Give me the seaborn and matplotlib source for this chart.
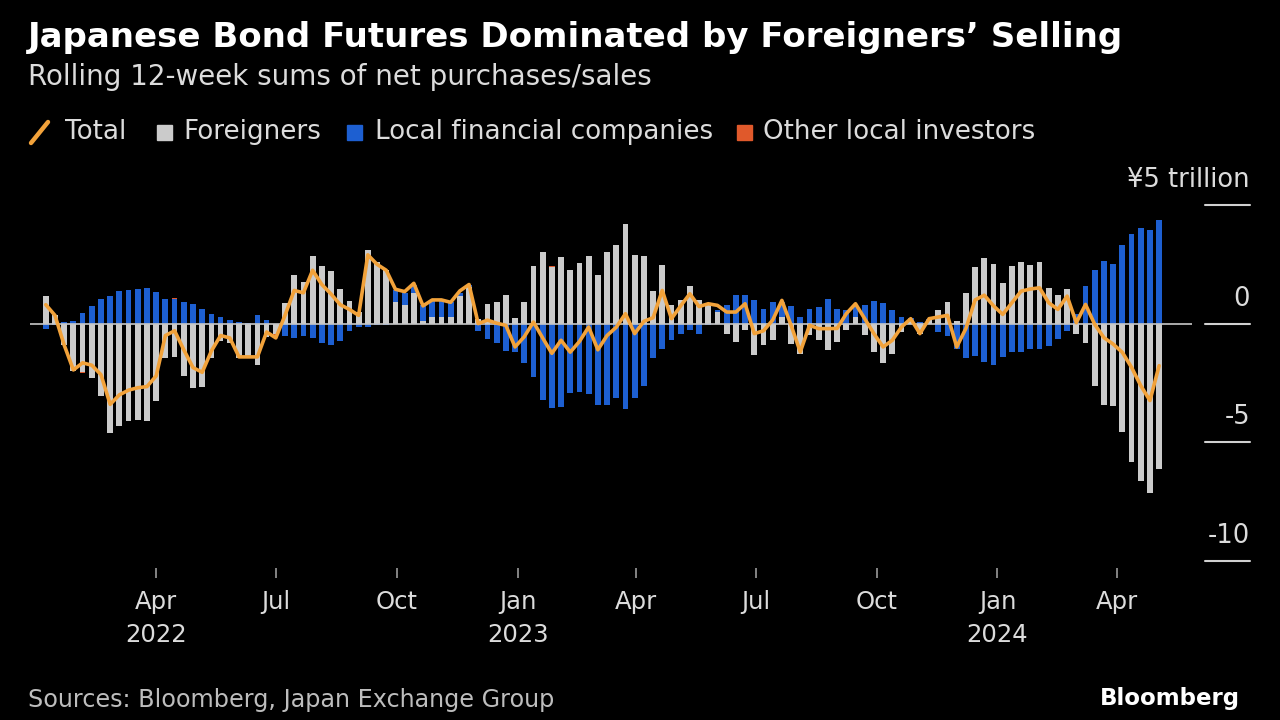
import numpy as np
import pandas as pd
import matplotlib
matplotlib.use("Agg")
from matplotlib import pyplot as plt
import matplotlib.transforms as mtrans
from matplotlib.patches import Rectangle
from matplotlib.lines import Line2D
import seaborn as sns

# weekly rolling 12-week sums, trillion yen, first week ending 2022-01-07
start_week = "2022-01-07"

foreigners = [
    1.15, 0.35, -0.90, -2.00, -2.05, -2.30, -3.05, -4.60, -4.30, -4.10,
    -4.05, -4.10, -3.25, -1.45, -1.40, -2.20, -2.72, -2.68, -1.45, -0.75,
    -0.80, -1.45, -1.40, -1.74, -0.55, -0.45, 0.85, 2.04, 1.76, 2.87,
    2.45, 2.20, 1.48, 0.95, 0.50, 3.10, 2.60, 2.25, 0.90, 0.80,
    1.30, 0.10, 0.30, 0.30, 0.30, 1.15, 1.55, 0.20, 0.84, 0.92,
    1.20, 0.22, 0.91, 2.41, 3.00, 2.40, 2.82, 2.27, 2.54, 2.86,
    2.05, 3.00, 3.31, 4.18, 2.89, 2.86, 1.39, 2.47, 0.80, 0.98,
    1.60, 0.98, 0.77, 0.49, -0.42, -0.77, -0.28, -1.32, -0.91, -0.70,
    0.30, -0.84, -1.26, -0.49, -0.70, -1.12, -0.77, -0.28, 0.28, -0.49,
    -1.19, -1.67, -1.26, -0.35, 0.10, -0.45, 0.15, 0.56, 0.93, 0.10,
    1.30, 2.38, 2.76, 2.50, 1.72, 2.41, 2.59, 2.48, 2.59, 1.51,
    1.19, 1.48, -0.45, -0.82, -2.61, -3.42, -3.47, -4.56, -5.84, -6.62,
    -7.14, -6.12,
]

local_financial = [
    -0.22, -0.05, 0.05, 0.10, 0.45, 0.75, 1.05, 1.15, 1.38, 1.40,
    1.44, 1.50, 1.32, 1.06, 1.06, 0.93, 0.81, 0.60, 0.39, 0.29,
    0.15, 0.07, 0.02, 0.38, 0.15, 0.00, -0.50, -0.60, -0.52, -0.60,
    -0.80, -0.90, -0.73, -0.30, -0.15, -0.15, -0.05, -0.05, 0.50, 0.50,
    0.35, 0.70, 0.65, 0.70, 0.60, 0.15, 0.10, -0.30, -0.65, -0.80,
    -1.15, -1.20, -1.65, -2.25, -3.21, -3.56, -3.50, -2.93, -2.90, -2.95,
    -3.42, -3.42, -3.14, -3.60, -3.14, -2.62, -1.46, -1.05, -0.70, -0.42,
    -0.28, -0.42, -0.07, 0.10, 0.77, 1.19, 1.19, 0.98, 0.63, 0.91,
    0.60, 0.74, 0.28, 0.63, 0.70, 1.02, 0.63, 0.56, 0.50, 0.77,
    0.95, 0.88, 0.56, 0.28, 0.15, 0.05, 0.05, -0.35, -0.52, -1.05,
    -1.46, -1.35, -1.60, -1.75, -1.42, -1.21, -1.21, -1.07, -1.07, -0.93,
    -0.66, -0.31, 0.40, 1.58, 2.27, 2.65, 2.52, 3.32, 3.77, 4.02,
    3.95, 4.37,
]

# other local investors are tiny and barely register on this scale
other_local = [
    0.00, 0.00, 0.01, 0.00, -0.01, 0.00, 0.00, 0.01, 0.00, 0.00,
    0.00, -0.01, 0.00, 0.00, 0.01, 0.00, 0.00, 0.00, 0.00, 0.00,
    0.01, 0.00, 0.00, 0.00, 0.00, -0.01, 0.00, 0.00, 0.00, 0.00,
    0.00, 0.00, 0.00, 0.01, 0.00, 0.00, 0.00, 0.00, 0.00, 0.00,
    0.00, 0.00, 0.01, 0.00, 0.00, 0.00, 0.00, 0.00, 0.00, -0.01,
    0.00, 0.00, 0.00, 0.00, 0.00, 0.01, 0.00, 0.00, 0.00, 0.00,
    0.00, 0.00, 0.00, 0.00, -0.01, 0.00, 0.00, 0.00, 0.00, 0.00,
    0.00, 0.00, 0.01, 0.00, 0.00, 0.00, 0.00, 0.00, 0.00, 0.00,
    0.00, -0.01, 0.00, 0.00, 0.00, 0.00, 0.00, 0.00, 0.01, 0.00,
    0.00, 0.00, 0.00, 0.00, 0.00, 0.00, 0.00, 0.00, 0.00, 0.00,
    0.00, 0.01, 0.00, 0.00, 0.00, 0.00, 0.00, 0.00, 0.00, 0.00,
    0.00, 0.00, 0.00, 0.00, 0.00, 0.00, -0.01, 0.00, 0.00, 0.00,
    0.00, 0.00,
]

total = [
    0.80, 0.35, -0.90, -1.95, -1.65, -1.75, -2.15, -3.40, -3.00, -2.80,
    -2.70, -2.65, -2.20, -0.50, -0.30, -1.10, -1.85, -2.05, -1.15, -0.50,
    -0.60, -1.40, -1.40, -1.40, -0.35, -0.60, 0.35, 1.40, 1.30, 2.25,
    1.65, 1.25, 0.80, 0.60, 0.35, 2.90, 2.50, 2.25, 1.45, 1.35,
    1.70, 0.75, 1.00, 1.00, 0.90, 1.38, 1.65, 0.00, 0.15, 0.02,
    -0.07, -0.98, -0.55, 0.07, -0.60, -1.25, -0.70, -1.20, -0.75, -0.14,
    -1.10, -0.50, -0.15, 0.42, -0.42, 0.10, 0.25, 1.40, 0.21, 0.75,
    1.26, 0.72, 0.84, 0.77, 0.49, 0.49, 0.84, -0.42, -0.30, 0.15,
    0.98, -0.07, -1.19, -0.07, -0.21, -0.21, -0.20, 0.42, 0.84, 0.21,
    -0.42, -0.98, -0.70, -0.14, 0.21, -0.42, 0.21, 0.28, 0.35, -0.98,
    -0.20, 1.00, 1.20, 0.75, 0.39, 0.88, 1.37, 1.46, 1.51, 0.88,
    0.60, 1.16, 0.04, 0.81, -0.03, -0.59, -0.86, -1.21, -1.84, -2.61,
    -3.24, -1.77,
]

tick_dates = ["2022-04-01", "2022-07-01", "2022-10-01", "2023-01-01", "2023-04-01",
              "2023-07-01", "2023-10-01", "2024-01-01", "2024-04-01"]
tick_labels = ["Apr\n2022", "Jul", "Oct", "Jan\n2023", "Apr",
               "Jul", "Oct", "Jan\n2024", "Apr"]
y_ticks = [5, 0, -5, -10]
y_labels = ["¥5 trillion", "0", "-5", "-10"]

series = ["Foreigners", "Local financial companies", "Other local investors"]
colors = {"Total": "#f2a23a", "Foreigners": "#cbcbcb",
          "Local financial companies": "#1d5fd1", "Other local investors": "#e0592b"}

df = pd.DataFrame({
    "week": pd.date_range(start_week, periods=len(total), freq="7D"),
    "Foreigners": foreigners,
    "Local financial companies": local_financial,
    "Other local investors": other_local,
    "Total": total,
})

sns.set_theme(style="dark")
plt.rcParams["font.family"] = ["DejaVu Sans"]
bg = "#000000"
txt = "#dcdcdc"

fig = plt.figure(figsize=(12.8, 7.2), dpi=100, facecolor=bg)
ax = fig.add_axes([30 / 1280, 1 - 561 / 720, 1162 / 1280, 356 / 720])
ax.set_facecolor(bg)

# stacked bars, positives and negatives stacked separately
pos_base = np.zeros(len(df))
neg_base = np.zeros(len(df))
for name in series:
    v = df[name].to_numpy()
    bottom = np.where(v >= 0, pos_base, neg_base)
    ax.bar(df["week"], v, bottom=bottom, width=4.4, color=colors[name],
           linewidth=0, zorder=2)
    pos_base += np.clip(v, 0, None)
    neg_base += np.clip(v, None, 0)

ax.axhline(0, color="#c8c8c8", lw=1.2, zorder=3)
sns.lineplot(data=df, x="week", y="Total", ax=ax, color=colors["Total"],
             lw=2.6, zorder=4)

ax.set_xlim(pd.Timestamp("2021-12-26"), pd.Timestamp("2024-05-28"))
ax.set_ylim(-10, 5)
ax.set_xlabel("")
ax.set_ylabel("")
ax.grid(False)
for s in ax.spines.values():
    s.set_visible(False)
ax.spines["bottom"].set_position(("outward", 5))

ax.set_xticks(pd.to_datetime(tick_dates))
ax.set_xticklabels(tick_labels, fontsize=17.5, color=txt, linespacing=1.45)
ax.tick_params(axis="x", length=7, width=1.2, color="#9a9a9a", pad=9, bottom=True)
ax.set_yticks([])

# right-hand value scale: short rules with labels sitting above them
tr = mtrans.blended_transform_factory(ax.transAxes, ax.transData)
for v, lab in zip(y_ticks, y_labels):
    ax.plot([1.0112, 1.0499], [v, v], transform=tr, color="#d0d0d0", lw=1.5,
            clip_on=False)
    ax.annotate(lab, xy=(1.0499, v), xycoords=tr, xytext=(0, 13),
                textcoords="offset points", ha="right", va="baseline",
                fontsize=18.5, color=txt, annotation_clip=False)

# titles
fig.text(28 / 1280, 1 - 38 / 720, "Japanese Bond Futures Dominated by Foreigners’ Selling",
         fontsize=24.5, fontweight="bold", color="#ffffff", va="center")
fig.text(28 / 1280, 1 - 77 / 720, "Rolling 12-week sums of net purchases/sales",
         fontsize=20, color=txt, va="center")

# legend
ly = 1 - 132 / 720
fig.add_artist(Line2D([31 / 1280, 48 / 1280], [1 - 143 / 720, 1 - 122 / 720],
                      color=colors["Total"], lw=3.2, solid_capstyle="round"))
fig.text(65 / 1280, ly, "Total", fontsize=18.8, color=txt, va="center")
for name, x0, xt in [("Foreigners", 157, 183),
                     ("Local financial companies", 347, 375),
                     ("Other local investors", 737, 763)]:
    fig.add_artist(Rectangle((x0 / 1280, 1 - 140 / 720), 15 / 1280, 15 / 720,
                             transform=fig.transFigure, color=colors[name]))
    fig.text(xt / 1280, ly, name, fontsize=18.8, color=txt, va="center")

# footer
fig.text(28 / 1280, 1 - 700 / 720, "Sources: Bloomberg, Japan Exchange Group",
         fontsize=17.2, color="#bdbdbd", va="center")
fig.text(1240 / 1280, 1 - 698 / 720, "Bloomberg", fontsize=16.5, fontweight="bold",
         color="#ffffff", va="center", ha="right")

fig.savefig("out.png", dpi=100, facecolor=bg)
